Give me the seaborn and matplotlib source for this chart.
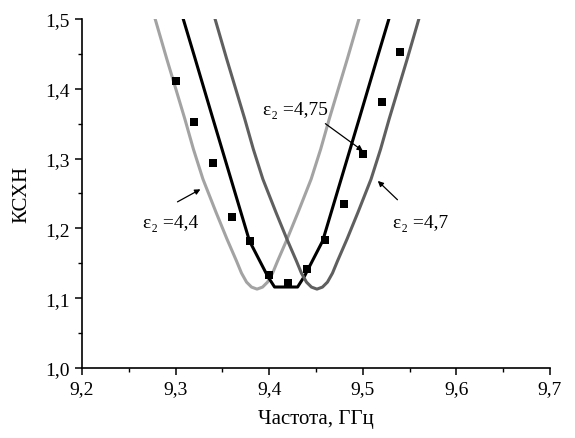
import matplotlib
matplotlib.use("Agg")
import matplotlib.pyplot as plt
from matplotlib.ticker import MultipleLocator, FuncFormatter
import seaborn as sns
import pandas as pd

# ---- data ----
freq_44 = [9.2735, 9.2906, 9.3099, 9.319, 9.3292, 9.3431, 9.3549, 9.3651, 9.3704, 9.3758, 9.3811, 9.387,
           9.3929, 9.3982, 9.4036, 9.4089, 9.4191, 9.4309, 9.4448, 9.455, 9.4641, 9.4834, 9.5005]
vswr_44 = [1.5214, 1.4426, 1.3566, 1.3136, 1.2706, 1.2233, 1.1846, 1.1531, 1.1359, 1.123, 1.1159, 1.113,
           1.1159, 1.123, 1.1359, 1.1531, 1.1846, 1.2233, 1.2706, 1.3136, 1.3566, 1.4426, 1.5214]

freq_475 = [9.3027, 9.3203, 9.3393, 9.3591, 9.3789, 9.3982, 9.4057,
            9.4303, 9.4378, 9.4571, 9.4769, 9.4967, 9.5157, 9.5333]
vswr_475 = [1.5244, 1.4456, 1.3596, 1.2708, 1.182, 1.1318, 1.116,
            1.116, 1.1318, 1.182, 1.2708, 1.3596, 1.4456, 1.5244]

freq_47 = [9.3375, 9.3546, 9.3739, 9.383, 9.3932, 9.4071, 9.4189, 9.4291, 9.4344, 9.4398, 9.4451, 9.451,
           9.4569, 9.4622, 9.4676, 9.4729, 9.4831, 9.4949, 9.5088, 9.519, 9.5281, 9.5474, 9.5645]
vswr_47 = [1.5214, 1.4426, 1.3566, 1.3136, 1.2706, 1.2233, 1.1846, 1.1531, 1.1359, 1.123, 1.1159, 1.113,
           1.1159, 1.123, 1.1359, 1.1531, 1.1846, 1.2233, 1.2706, 1.3136, 1.3566, 1.4426, 1.5214]

meas_freq = [9.30, 9.32, 9.34, 9.36, 9.38, 9.40, 9.42, 9.44, 9.46, 9.48, 9.50, 9.52, 9.54]
meas_vswr = [1.411, 1.352, 1.293, 1.217, 1.182, 1.133, 1.122, 1.142, 1.184, 1.235,
             1.307, 1.381, 1.452]

x_ticks = [9.2, 9.3, 9.4, 9.5, 9.6, 9.7]
y_ticks = [1.0, 1.1, 1.2, 1.3, 1.4, 1.5]
labels = ["ε₂ =4,4", "ε₂ =4,75", "ε₂ =4,7"]
x_label = "Частота, ГГц"
y_label = "КСХН"

# ---- plotting ----
sns.set_style("ticks")
plt.rcParams["font.family"] = ["Liberation Serif", "DejaVu Serif"]
plt.rcParams["text.color"] = "black"
plt.rcParams["axes.labelcolor"] = "black"
plt.rcParams["xtick.color"] = "black"
plt.rcParams["ytick.color"] = "black"

fig = plt.figure(figsize=(5.75, 4.39), dpi=100)
ax = fig.add_axes([0.1426, 0.1595, 0.814, 0.795])

curves = [(freq_44, vswr_44, "#a3a3a3"),
          (freq_475, vswr_475, "#000000"),
          (freq_47, vswr_47, "#5f5f5f")]
for f, v, c in curves:
    df = pd.DataFrame({"f": f, "v": v})
    sns.lineplot(data=df, x="f", y="v", color=c, linewidth=2.2, ax=ax,
                 sort=False, estimator=None)

dm = pd.DataFrame({"f": meas_freq, "v": meas_vswr})
sns.scatterplot(data=dm, x="f", y="v", marker="s", s=30, color="black",
                edgecolor="black", linewidth=0, ax=ax, zorder=5)

ax.set_xlim(9.2, 9.7)
ax.set_ylim(1.0, 1.5)
ax.set_xticks(x_ticks)
ax.set_yticks(y_ticks)
ax.xaxis.set_minor_locator(MultipleLocator(0.05))
ax.yaxis.set_minor_locator(MultipleLocator(0.05))
fmt = FuncFormatter(lambda val, pos: f"{val:.1f}".replace(".", ","))
ax.xaxis.set_major_formatter(fmt)
ax.yaxis.set_major_formatter(fmt)
ax.tick_params(which="major", direction="out", length=5, width=1.1,
               labelsize=14, colors="black", pad=4)
ax.tick_params(which="minor", direction="out", length=3, width=1.0, colors="black")

for side in ["top", "right"]:
    ax.spines[side].set_visible(False)
for side in ["left", "bottom"]:
    ax.spines[side].set_linewidth(1.2)
    ax.spines[side].set_color("black")

ax.set_xlabel(x_label, fontsize=15, labelpad=8)
ax.set_ylabel(y_label, fontsize=15, labelpad=10)

arrow = dict(arrowstyle="-|>", color="black", lw=0.9, mutation_scale=8,
             shrinkA=0, shrinkB=0)
ax.text(9.265, 1.209, labels[0], fontsize=14, ha="left", va="center")
ax.text(9.393, 1.371, labels[1], fontsize=14, ha="left", va="center")
ax.text(9.532, 1.209, labels[2], fontsize=14, ha="left", va="center")
ax.annotate("", xy=(9.3265, 1.256), xytext=(9.302, 1.238), arrowprops=arrow)
ax.annotate("", xy=(9.5, 1.311), xytext=(9.46, 1.35), arrowprops=arrow)
ax.annotate("", xy=(9.516, 1.268), xytext=(9.537, 1.241), arrowprops=arrow)

fig.savefig("out.png", dpi=100)
